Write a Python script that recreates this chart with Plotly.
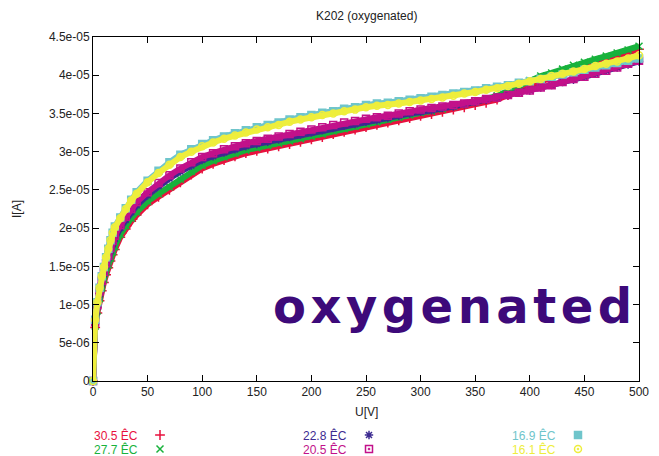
import plotly.graph_objects as go

# Bias voltage U [V]
U = [0, 2, 4, 6, 8, 10, 12, 14, 16, 18, 20, 25, 30, 35, 40,
     50, 60, 70, 80, 90, 100, 110, 120, 130, 140, 150, 160, 170, 180, 190,
     200, 210, 220, 230, 240, 250, 260, 270, 280, 290, 300, 310, 320, 330, 340,
     350, 360, 370, 380, 390, 400, 410, 420, 430, 440, 450, 460, 470, 480, 490, 500]

# Currents in units of 1e-5 A
SCALE = 1e-5
I_305 = [0, 0.70, 0.89, 1.05, 1.18, 1.29, 1.39, 1.48, 1.57, 1.65, 1.72, 1.88, 1.99, 2.09, 2.17,
         2.31, 2.41, 2.50, 2.60, 2.70, 2.78, 2.84, 2.89, 2.94, 2.98, 3.01, 3.04, 3.07, 3.10, 3.13,
         3.16, 3.19, 3.23, 3.26, 3.29, 3.32, 3.35, 3.38, 3.41, 3.44, 3.47, 3.49, 3.52, 3.55, 3.58,
         3.61, 3.64, 3.68, 3.74, 3.80, 3.87, 3.93, 3.98, 4.03, 4.08, 4.12, 4.17, 4.21, 4.25, 4.29, 4.34]
I_277 = [0, 0.72, 0.92, 1.08, 1.22, 1.33, 1.43, 1.52, 1.61, 1.69, 1.76, 1.92, 2.03, 2.13, 2.21,
         2.35, 2.45, 2.54, 2.64, 2.74, 2.82, 2.88, 2.93, 2.98, 3.02, 3.05, 3.08, 3.11, 3.14, 3.17,
         3.20, 3.23, 3.27, 3.30, 3.33, 3.36, 3.39, 3.42, 3.45, 3.48, 3.51, 3.53, 3.56, 3.59, 3.62,
         3.65, 3.69, 3.73, 3.80, 3.86, 3.93, 3.99, 4.03, 4.08, 4.13, 4.17, 4.21, 4.25, 4.29, 4.33, 4.38]
I_228 = [0, 0.75, 0.97, 1.14, 1.28, 1.40, 1.51, 1.61, 1.70, 1.79, 1.86, 2.00, 2.11, 2.21, 2.30,
         2.43, 2.55, 2.65, 2.74, 2.82, 2.89, 2.94, 2.99, 3.03, 3.07, 3.10, 3.13, 3.16, 3.19, 3.22,
         3.25, 3.28, 3.31, 3.34, 3.36, 3.39, 3.41, 3.44, 3.47, 3.50, 3.52, 3.54, 3.57, 3.59, 3.62,
         3.65, 3.68, 3.71, 3.74, 3.77, 3.80, 3.84, 3.87, 3.91, 3.94, 3.98, 4.02, 4.06, 4.10, 4.14, 4.18]
I_205 = [0, 0.77, 0.99, 1.17, 1.31, 1.43, 1.54, 1.64, 1.74, 1.83, 1.90, 2.04, 2.15, 2.25, 2.34,
         2.47, 2.59, 2.69, 2.78, 2.86, 2.93, 2.98, 3.03, 3.07, 3.11, 3.14, 3.17, 3.20, 3.23, 3.26,
         3.29, 3.32, 3.35, 3.38, 3.40, 3.43, 3.45, 3.47, 3.50, 3.53, 3.55, 3.57, 3.59, 3.61, 3.63,
         3.66, 3.69, 3.71, 3.74, 3.77, 3.80, 3.84, 3.87, 3.91, 3.95, 3.98, 4.02, 4.06, 4.10, 4.15, 4.19]
I_169 = [0, 0.80, 1.03, 1.22, 1.37, 1.49, 1.62, 1.73, 1.84, 1.94, 2.02, 2.14, 2.26, 2.37, 2.47,
         2.62, 2.75, 2.86, 2.96, 3.03, 3.10, 3.15, 3.20, 3.24, 3.28, 3.32, 3.35, 3.38, 3.42, 3.45,
         3.48, 3.51, 3.53, 3.56, 3.58, 3.61, 3.63, 3.64, 3.66, 3.68, 3.70, 3.72, 3.74, 3.76, 3.78,
         3.80, 3.83, 3.85, 3.87, 3.90, 3.92, 3.95, 3.98, 4.01, 4.04, 4.07, 4.10, 4.13, 4.16, 4.19, 4.22]
I_161 = [0, 0.80, 1.03, 1.22, 1.37, 1.49, 1.62, 1.73, 1.84, 1.94, 2.01, 2.13, 2.25, 2.36, 2.45,
         2.60, 2.72, 2.83, 2.93, 3.00, 3.07, 3.12, 3.17, 3.21, 3.25, 3.29, 3.32, 3.35, 3.39, 3.42,
         3.45, 3.48, 3.50, 3.53, 3.55, 3.58, 3.60, 3.61, 3.63, 3.65, 3.67, 3.69, 3.71, 3.73, 3.76,
         3.78, 3.81, 3.83, 3.86, 3.89, 3.92, 3.95, 3.99, 4.02, 4.05, 4.08, 4.12, 4.15, 4.18, 4.22, 4.26]

LABELS = ["30.5 ÊC", "27.7 ÊC", "22.8 ÊC", "20.5 ÊC", "16.9 ÊC", "16.1 ÊC"]
SERIES = [I_305, I_277, I_228, I_205, I_169, I_161]
COLORS = ["#e8113e", "#18b23c", "#3d2b91", "#c2118a", "#6fc5cb", "#eeee3c"]
SYMBOLS = ["cross-thin-open", "x-thin-open", "asterisk-open", "square-open-dot", "square", "circle-open-dot"]

XTICKS = [0, 50, 100, 150, 200, 250, 300, 350, 400, 450, 500]
YTICKS = [0, 0.5e-5, 1e-5, 1.5e-5, 2e-5, 2.5e-5, 3e-5, 3.5e-5, 4e-5, 4.5e-5]
YTICKTEXT = ["0", "5e-06", "1e-05", "1.5e-05", "2e-05", "2.5e-05", "3e-05", "3.5e-05", "4e-05", "4.5e-05"]

FONT = "Liberation Sans, Arial, sans-serif"

# The html body has an 8px margin: figure pixel = page pixel - 8
OFF = 8
FW, FH = 659, 456
PL, PR, PT, PB = 93, 639, 37, 381   # plot box in page pixels


def px_x(p):
    return (p - OFF) / FW


def px_y(p):
    return 1 - (p - OFF) / FH


fig = go.Figure()
for name, vals, col, sym in zip(LABELS, SERIES, COLORS, SYMBOLS):
    fig.add_trace(go.Scatter(
        x=U, y=[v * SCALE for v in vals], mode="lines+markers", name=name,
        line=dict(color=col, width=6),
        marker=dict(color=col, symbol=sym, size=7, line=dict(color=col, width=1.5)),
        cliponaxis=False, showlegend=False, hoverinfo="skip"))

# legend key (gnuplot style: text, then sample symbol) on a hidden full-page axis pair
LEG_X_TEXT = [139, 139, 348, 348, 557, 557]
LEG_X_MARK = [160, 160, 369, 369, 578, 578]
LEG_Y = [435, 449, 435, 449, 435, 449]
for i, (name, col, sym) in enumerate(zip(LABELS, COLORS, SYMBOLS)):
    fig.add_trace(go.Scatter(
        x=[LEG_X_MARK[i]], y=[LEG_Y[i]], xaxis="x2", yaxis="y2", mode="markers",
        marker=dict(color=col, symbol=sym, size=7, line=dict(color=col, width=1.5)),
        cliponaxis=False, showlegend=False, hoverinfo="skip"))
    fig.add_annotation(x=LEG_X_TEXT[i], y=LEG_Y[i], xref="x2", yref="y2", text=name,
                       showarrow=False, xanchor="right", yanchor="middle", borderpad=0,
                       font=dict(family=FONT, size=12, color=col))

axis_common = dict(showline=True, linecolor="black", linewidth=1, mirror="ticks",
                   ticks="inside", ticklen=6, tickcolor="black", showgrid=False,
                   zeroline=False, automargin=False,
                   tickfont=dict(family=FONT, size=12, color="#222"))

fig.update_layout(
    width=FW, height=FH,
    margin=dict(l=0, r=0, t=0, b=0, pad=0, autoexpand=False),
    paper_bgcolor="white", plot_bgcolor="rgba(0,0,0,0)",
    xaxis=dict(range=[0, 500], tickvals=XTICKS, domain=[px_x(PL), px_x(PR)],
               anchor="y", **axis_common),
    yaxis=dict(range=[0, 4.5e-5], tickvals=YTICKS, ticktext=YTICKTEXT,
               domain=[px_y(PB), px_y(PT)], anchor="x", **axis_common),
    xaxis2=dict(domain=[0, 1], range=[OFF, OFF + FW], visible=False, anchor="y2", automargin=False),
    yaxis2=dict(domain=[0, 1], range=[OFF + FH, OFF], visible=False, anchor="x2", automargin=False),
    showlegend=False,
)

fig.add_annotation(x=366, y=16, xref="x2", yref="y2", text="K202 (oxygenated)", showarrow=False,
                   font=dict(family=FONT, size=12, color="#222"))
fig.add_annotation(x=366, y=412, xref="x2", yref="y2", text="U[V]", showarrow=False,
                   font=dict(family=FONT, size=12, color="#222"))
fig.add_annotation(x=17, y=209, xref="x2", yref="y2", text="I[A]", showarrow=False,
                   textangle=-90, font=dict(family=FONT, size=12, color="#222"))

fig.add_annotation(x=271, y=306, xref="x2", yref="y2",
                   text="<span style='letter-spacing:4.5px'><b>oxygenated</b></span>",
                   showarrow=False, xanchor="left", yanchor="middle",
                   font=dict(family="DejaVu Sans, sans-serif", size=48, color="#3d0a7a"))

fig.write_html("out.html")
